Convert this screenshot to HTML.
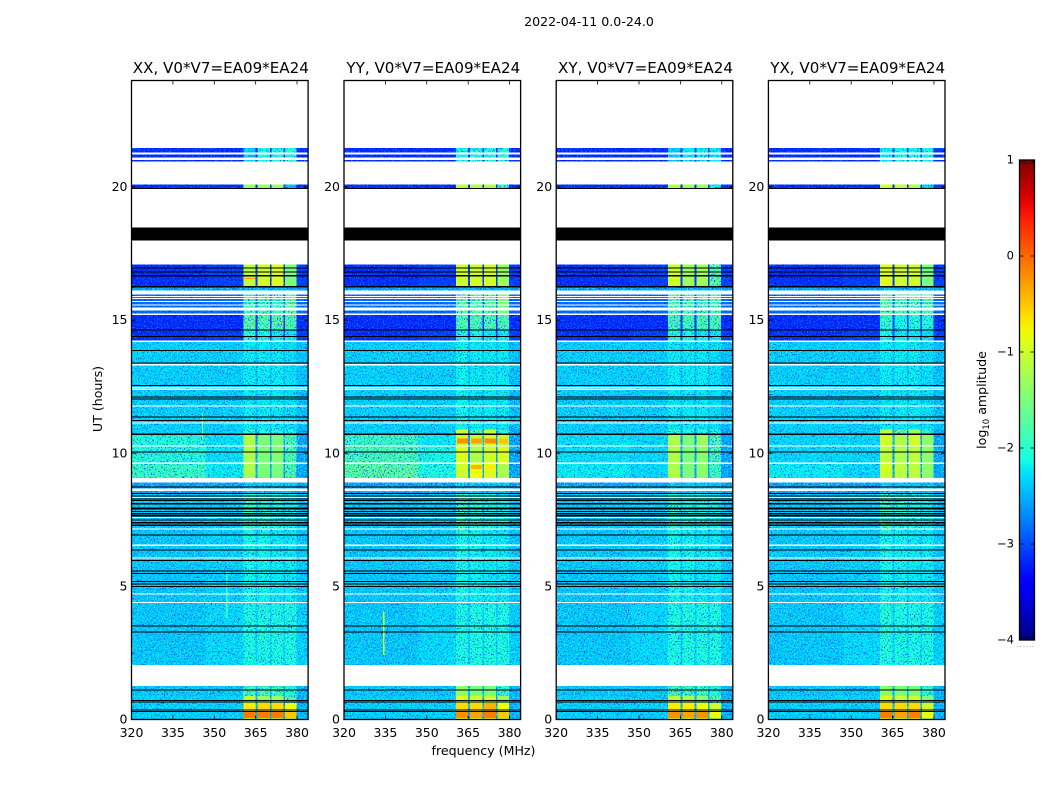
<!DOCTYPE html>
<html lang="en">
<head>
<meta charset="utf-8">
<title>2022-04-11 0.0-24.0</title>
<style>
html,body{margin:0;padding:0;background:#fff;}
svg{display:block;}
text{font-family:"DejaVu Sans","Liberation Sans",sans-serif;fill:#000;}
</style>
</head>
<body>
<svg id="figure" xmlns="http://www.w3.org/2000/svg" width="1050" height="800" viewBox="0 0 1050 800">
  <defs>
    <filter id="speckle" filterUnits="userSpaceOnUse" x="120" y="70" width="840" height="660" color-interpolation-filters="sRGB">
      <feTurbulence type="fractalNoise" baseFrequency="0.7" numOctaves="2" seed="7" result="n"/>
      <feColorMatrix in="n" type="matrix" values="0 0 0 0 0.02  0 0 0 0 0.25  0 0 0 0 1  7 0 0 0 -3.95" result="dark"/>
      <feColorMatrix in="n" type="matrix" values="0 0 0 0 0.05  0 0 0 0 1  0 0 0 0 0.95  0 7 0 0 -3.8" result="light"/>
      <feMerge result="merged">
        <feMergeNode in="SourceGraphic"/>
        <feMergeNode in="dark"/>
        <feMergeNode in="light"/>
      </feMerge>
      <feComposite in="merged" in2="SourceAlpha" operator="in"/>
    </filter>
    <filter id="speckle-low" filterUnits="userSpaceOnUse" x="120" y="70" width="840" height="660" color-interpolation-filters="sRGB">
      <feTurbulence type="fractalNoise" baseFrequency="0.7" numOctaves="2" seed="11" result="n"/>
      <feColorMatrix in="n" type="matrix" values="0 0 0 0 0  0 0 0 0 0  0 0 0 0 0.85  7 0 0 0 -4.1" result="dark"/>
      <feColorMatrix in="n" type="matrix" values="0 0 0 0 0  0 0 0 0 0.45  0 0 0 0 1  0 8 0 0 -4.3" result="light"/>
      <feMerge result="merged">
        <feMergeNode in="SourceGraphic"/>
        <feMergeNode in="dark"/>
        <feMergeNode in="light"/>
      </feMerge>
      <feComposite in="merged" in2="SourceAlpha" operator="in"/>
    </filter>
    <linearGradient id="jet-gradient" x1="0" y1="1" x2="0" y2="0"></linearGradient>
  </defs>
  <text x="589" y="26" font-size="12.6" text-anchor="middle">2022-04-11 0.0-24.0</text>
  <text x="102" y="399" font-size="12.6" text-anchor="middle" transform="rotate(-90 102 399)">UT (hours)</text>
  <text x="483.5" y="755" font-size="12.6" text-anchor="middle">frequency (MHz)</text>
  <text x="986" y="400" font-size="12.6" text-anchor="middle" transform="rotate(-90 986 400)">log<tspan font-size="8.5" dy="3">10</tspan><tspan dy="-3"> amplitude</tspan></text>
  <g id="panels"></g>
  <g id="colorbar"></g>
</svg>
<script>
// ---------- categories and tick labels ----------
const panelNames = ['XX', 'YY', 'XY', 'YX'];
const xTicks = [320, 335, 350, 365, 380];
const yTicks = [0, 5, 10, 15, 20];
const colorTicks = [1, 0, -1, -2, -3, -4];

// frequency cell edges (MHz) and which level column each cell reads
const freqEdges = [320, 347, 360.5, 365, 365.7, 370.2, 370.8, 375.1, 375.6, 379.8, 384];
const cellColumn = [0, 1, 2, 6, 3, 6, 4, 6, 5, 6];

// time bands: start hour, end hour, regime row
const timeBands = [
  [20.96, 21.02, 0], [21.11, 21.23, 0], [21.29, 21.46, 0], [19.97, 20.09, 1],
  [16.27, 17.09, 2], [16.12, 16.27, 3], [15.20, 15.97, 4], [14.65, 15.20, 5],
  [14.24, 14.65, 6], [10.89, 14.17, 7], [10.72, 10.89, 20], [10.30, 10.72, 8],
  [9.66, 10.25, 9], [9.07, 9.60, 10], [8.50, 8.91, 11], [7.10, 8.50, 12],
  [4.40, 7.10, 13], [2.04, 4.40, 14], [0.88, 1.26, 15], [0.62, 0.88, 16],
  [0.28, 0.62, 17], [0.06, 0.28, 18], [0, 0.06, 19]
];

// log10 amplitude per regime row: low band, mid band, four bright blocks, high band
const levelsXX = [
  [-3.2,-3.2,-2.4,-2.1,-2.0,-2.0,-3.2],[-3.2,-3.2,-1.3,-1.3,-1.3,-2.5,-3.2],[-3.2,-3.1,-1.1,-1.0,-0.9,-1.5,-3.1],
  [-2.6,-2.6,-2.5,-2.5,-2.5,-2.5,-2.6],[-2.8,-2.8,-1.8,-1.8,-1.9,-1.6,-2.8],[-3.2,-3.2,-1.6,-1.7,-1.6,-1.7,-3.2],
  [-3.2,-3.1,-2.0,-2.1,-2.2,-2.2,-3.1],[-2.35,-2.35,-2.2,-2.2,-2.2,-2.25,-2.45],[-2.0,-2.25,-1.2,-1.5,-1.5,-1.7,-2.6],
  [-2.0,-2.25,-1.2,-1.5,-1.45,-1.7,-2.6],[-1.85,-2.2,-1.2,-1.5,-1.5,-1.7,-2.6],[-2.6,-2.6,-2.4,-2.4,-2.4,-2.4,-2.6],
  [-2.4,-2.35,-1.85,-1.95,-2.05,-2.15,-2.4],[-2.4,-2.35,-2.1,-2.15,-2.2,-2.2,-2.4],[-2.4,-2.3,-2.05,-2.05,-2.05,-2.05,-2.35],
  [-2.4,-2.4,-1.8,-1.8,-1.8,-2.0,-2.5],[-2.35,-2.35,-1.1,-1.3,-1.3,-1.6,-2.5],[-2.35,-2.35,-0.7,-0.6,-0.6,-0.8,-2.5],
  [-2.35,-2.35,-0.1,-0.1,-0.1,-0.5,-2.5],[-2.4,-2.4,-0.9,-0.9,-0.9,-1.0,-2.5],[-2.35,-2.35,-1.9,-2.0,-2.0,-2.1,-2.6]
];
const levelsYY = [
  [-3.2,-3.2,-2.1,-2.0,-2.0,-2.0,-3.2],[-3.2,-3.2,-1.1,-1.2,-1.2,-1.9,-3.2],[-3.2,-3.1,-1.0,-1.0,-1.0,-1.3,-3.1],
  [-2.6,-2.6,-2.5,-2.5,-2.5,-2.5,-2.6],[-2.8,-2.8,-1.6,-1.6,-1.6,-1.5,-2.8],[-3.2,-3.2,-1.7,-1.7,-1.7,-1.7,-3.2],
  [-3.2,-3.1,-2.1,-2.1,-2.2,-2.2,-3.1],[-2.35,-2.35,-2.15,-2.2,-2.2,-2.2,-2.45],[-1.85,-2.2,-1.0,-1.1,-1.0,-1.1,-2.6],
  [-1.75,-2.1,-0.9,-1.2,-1.0,-0.9,-2.6],[-1.6,-2.05,-1.0,-0.8,-0.9,-1.2,-2.6],[-2.6,-2.6,-2.4,-2.4,-2.4,-2.4,-2.6],
  [-2.4,-2.35,-1.8,-1.95,-2.05,-2.15,-2.4],[-2.4,-2.35,-2.1,-2.15,-2.2,-2.2,-2.4],[-2.4,-2.3,-2.05,-2.05,-2.05,-2.05,-2.35],
  [-2.4,-2.4,-1.4,-1.5,-1.5,-1.9,-2.5],[-2.35,-2.35,-0.9,-1.0,-1.0,-1.3,-2.5],[-2.35,-2.35,-0.6,-0.6,-0.4,-0.8,-2.5],
  [-2.35,-2.35,-0.2,-0.3,-0.1,-0.5,-2.5],[-2.4,-2.4,-0.7,-0.8,-0.7,-1.0,-2.5],[-2.35,-2.35,-1.0,-1.6,-1.1,-1.9,-2.6]
];
const levelsXY = [
  [-3.2,-3.2,-2.4,-2.2,-2.2,-2.2,-3.2],[-3.2,-3.2,-1.2,-1.3,-1.3,-2.2,-3.2],[-3.2,-3.1,-1.0,-1.3,-1.3,-1.6,-3.1],
  [-2.6,-2.6,-2.5,-2.5,-2.5,-2.5,-2.6],[-2.8,-2.8,-1.7,-1.7,-1.8,-1.7,-2.8],[-3.2,-3.2,-1.7,-1.8,-1.7,-1.7,-3.2],
  [-3.2,-3.1,-2.0,-2.1,-2.2,-2.2,-3.1],[-2.35,-2.35,-2.2,-2.2,-2.2,-2.25,-2.45],[-2.25,-2.3,-1.2,-1.5,-1.3,-1.7,-2.6],
  [-2.25,-2.3,-1.2,-1.5,-1.4,-1.7,-2.6],[-2.2,-2.3,-1.2,-1.5,-1.4,-1.8,-2.6],[-2.6,-2.6,-2.4,-2.4,-2.4,-2.4,-2.6],
  [-2.4,-2.35,-1.95,-2.05,-2.05,-2.15,-2.4],[-2.4,-2.35,-2.1,-2.15,-2.2,-2.2,-2.4],[-2.4,-2.3,-2.05,-2.05,-2.05,-2.05,-2.35],
  [-2.4,-2.4,-1.7,-1.8,-1.8,-2.0,-2.5],[-2.35,-2.35,-1.1,-1.2,-1.4,-1.7,-2.5],[-2.35,-2.35,-0.7,-0.7,-0.8,-1.0,-2.5],
  [-2.35,-2.35,-0.2,-0.3,-0.2,-0.8,-2.5],[-2.4,-2.4,-0.9,-0.9,-0.9,-1.2,-2.5],[-2.35,-2.35,-1.9,-2.0,-2.0,-2.1,-2.6]
];
const levelsYX = [
  [-3.2,-3.2,-2.2,-2.1,-2.1,-2.1,-3.2],[-3.2,-3.2,-1.0,-1.1,-1.2,-2.4,-3.2],[-3.2,-3.1,-0.9,-1.0,-1.0,-1.5,-3.1],
  [-2.6,-2.6,-2.5,-2.5,-2.5,-2.5,-2.6],[-2.8,-2.8,-1.6,-1.7,-1.7,-1.7,-2.8],[-3.2,-3.2,-1.9,-2.1,-2.0,-2.0,-3.2],
  [-3.2,-3.1,-2.1,-2.2,-2.2,-2.3,-3.1],[-2.35,-2.35,-2.2,-2.2,-2.2,-2.25,-2.45],[-2.3,-2.3,-1.0,-1.2,-1.0,-1.4,-2.6],
  [-2.3,-2.3,-1.1,-1.2,-1.1,-1.4,-2.6],[-2.2,-2.3,-1.0,-1.1,-1.1,-1.4,-2.6],[-2.6,-2.6,-2.4,-2.4,-2.4,-2.4,-2.6],
  [-2.4,-2.35,-1.8,-1.95,-2.05,-2.15,-2.4],[-2.4,-2.35,-2.1,-2.15,-2.2,-2.2,-2.4],[-2.4,-2.3,-2.0,-2.05,-2.05,-2.05,-2.35],
  [-2.4,-2.4,-1.4,-1.5,-1.5,-1.9,-2.5],[-2.35,-2.35,-0.9,-1.0,-1.0,-1.5,-2.5],[-2.35,-2.35,-0.6,-0.6,-0.6,-1.0,-2.5],
  [-2.35,-2.35,-0.1,-0.3,-0.1,-0.8,-2.5],[-2.4,-2.4,-0.7,-0.8,-0.7,-1.2,-2.5],[-2.35,-2.35,-1.1,-1.6,-1.3,-1.9,-2.6]
];
const panelLevels = [levelsXX, levelsYY, levelsXY, levelsYX];

// blanked (white) time ranges, hours
const blankRanges = [
  [15.87,15.90],[15.80,15.83],[15.69,15.71],[15.56,15.59],[15.37,15.47],[15.20,15.24],
  [13.30,13.35],[12.44,12.49],[12.38,12.41],[11.76,11.80],[11.11,11.16],[8.59,8.68],
  [8.33,8.36],[7.57,7.61],[7.14,7.17],[6.52,6.57],[6.05,6.09],[4.71,4.74],[4.38,4.42]
];
// flagged (black) time ranges and single lines, hours
const flagRanges = [[17.99,18.48]];
const flagLines = [
  19.96,16.97,16.82,16.70,16.68,16.28,16.26,14.65,14.41,13.88,13.40,12.57,12.13,12.05,11.38,11.25,
  10.75,10.73,10.07,8.75,8.50,8.41,8.30,8.24,8.14,8.11,7.97,7.93,7.83,7.75,7.70,7.66,7.51,7.42,7.36,7.30,6.95,
  6.39,5.99,5.60,5.51,5.21,5.11,5.01,3.53,3.31,1.13,0.73,0.68,0.37,0.31
];
// narrow hot features: panel, f0, f1, h0, h1, level
const hotFeatures = [
  [0,361,379.8,16.93,16.98,-0.3],[0,361,365,16.54,16.58,-0.3],[0,345.5,346,10.56,11.5,-1.3],[0,354.3,354.8,3.8,5.6,-1.8],
  [1,361,379.8,16.93,16.98,-0.4],[1,334.2,334.7,2.42,4.03,-0.9],[1,361,365,10.37,10.56,-0.2],[1,366,370,10.37,10.56,-0.3],
  [1,371,375,10.37,10.56,-0.2],[1,376,379.5,10.37,10.56,-0.5],[1,366,370,9.40,9.55,-0.4],[1,371,375,9.40,9.55,-0.7],
  [2,361,379.8,16.93,16.98,-0.5],[3,361,365,16.93,16.98,-0.3],[3,361,365,15.85,15.95,-0.5],[3,366,379.8,15.85,15.95,-0.9]
];

// ---------- axis functions ----------
const panelLefts = [131.5, 344, 556.2, 768.4];
const panelWidth = 176.6;
const plotTop = 80.5;
const plotBottom = 719.5;
const xScale = (p, mhz) => panelLefts[p] + (mhz - 320) / 64 * panelWidth;
const yScale = h => plotBottom - h / 24 * (plotBottom - plotTop);
const cbarScale = v => 640 - (v + 4) / 5 * 480;

function jetChannel(t, pts) {
  for (let i = 1; i < pts.length; i++) {
    if (t <= pts[i][0]) {
      const a = pts[i - 1], b = pts[i];
      return a[1] + (b[1] - a[1]) * (t - a[0]) / (b[0] - a[0]);
    }
  }
  return pts[pts.length - 1][1];
}
const jetR = [[0,0],[0.35,0],[0.66,1],[0.89,1],[1,0.5]];
const jetG = [[0,0],[0.125,0],[0.375,1],[0.64,1],[0.91,0],[1,0]];
const jetB = [[0,0.5],[0.11,1],[0.34,1],[0.65,0],[1,0]];
function jet(v) {
  const t = Math.max(0, Math.min(1, (v + 4) / 5));
  const c = [jetR, jetG, jetB].map(p => Math.round(255 * jetChannel(t, p)));
  return 'rgb(' + c.join(',') + ')';
}

const NS = 'http://www.w3.org/2000/svg';
function make(tag, attrs, parent) {
  const el = document.createElementNS(NS, tag);
  for (const k in attrs) el.setAttribute(k, attrs[k]);
  parent.appendChild(el);
  return el;
}
const panelsRoot = document.getElementById('panels');

panelNames.forEach((name, p) => {
  const panel = make('g', {}, panelsRoot);
  
  
  const lowCells = make('g', { filter: 'url(#speckle-low)', 'shape-rendering': 'crispEdges' }, panel);
  
  
  const noisy = make('g', { filter: 'url(#speckle)', 'shape-rendering': 'crispEdges' }, panel);
  
  
  const smooth = make('g', { 'shape-rendering': 'crispEdges' }, panel);
  
  
  const levels = panelLevels[p];

  timeBands.forEach(band => {
    const row = levels[band[2]];
    cellColumn.forEach((col, i) => {
      const v = row[col];
      const x0 = xScale(p, freqEdges[i]);
      const x1 = xScale(p, freqEdges[i + 1]);
      const y0 = yScale(band[1]);
      const y1 = yScale(band[0]);
      const host = v < -2.75 ? lowCells : (v < -1.55 ? noisy : smooth);
      const cell = make('rect', { x: x0, y: y0, width: x1 - x0, height: y1 - y0, fill: jet(v) }, host);
      
      
    });
  });

  hotFeatures.filter(f => f[0] === p).forEach(f => {
    const hot = make('rect', {
      x: xScale(p, f[1]), y: yScale(f[4]),
      width: xScale(p, f[2]) - xScale(p, f[1]), height: yScale(f[3]) - yScale(f[4]),
      fill: jet(f[5]), 'shape-rendering': 'crispEdges'
    }, panel);
    
    
  });

  blankRanges.forEach(r => {
    const gap = make('rect', {
      x: xScale(p, 320), y: yScale(r[1]), width: panelWidth,
      height: Math.max(1, yScale(r[0]) - yScale(r[1])), fill: '#fff', 'shape-rendering': 'crispEdges'
    }, panel);
    
    
  });

  flagRanges.forEach(r => {
    const flag = make('rect', {
      x: xScale(p, 320), y: yScale(r[1]), width: panelWidth,
      height: yScale(r[0]) - yScale(r[1]), fill: '#000', 'shape-rendering': 'crispEdges'
    }, panel);
    
    
  });

  flagLines.forEach(h => {
    const line = make('rect', {
      x: xScale(p, 320), y: yScale(h), width: panelWidth,
      height: 1, fill: '#000', 'shape-rendering': 'crispEdges'
    }, panel);
    
    
  });

  // frame
  const frame = make('rect', {
    x: xScale(p, 320), y: plotTop, width: panelWidth, height: plotBottom - plotTop,
    fill: 'none', stroke: '#000', 'stroke-width': 1.3
  }, panel);
  
  

  // ticks
  xTicks.forEach(t => {
    const x = xScale(p, t);
    [[plotBottom, plotBottom - 4], [plotTop, plotTop + 4]].forEach(e => {
      const tick = make('line', { x1: x, x2: x, y1: e[0], y2: e[1], stroke: '#000', 'stroke-width': 0.8 }, panel);
      
      
    });
    const label = make('text', { x: x, y: 737, 'font-size': 12.5, 'text-anchor': 'middle' }, panel);
    label.textContent = t;
    
    
  });
  yTicks.forEach(t => {
    const y = yScale(t);
    const left = xScale(p, 320);
    const right = left + panelWidth;
    [[left, left + 4], [right, right - 4]].forEach(e => {
      const tick = make('line', { x1: e[0], x2: e[1], y1: y, y2: y, stroke: '#000', 'stroke-width': 0.8 }, panel);
      
      
    });
    const label = make('text', { x: left - 4, y: y + 4, 'font-size': 12.5, 'text-anchor': 'end' }, panel);
    label.textContent = t;
    
    
  });

  const title = make('text', { x: xScale(p, 320) + panelWidth / 2 + 1, y: 73, 'font-size': 15.1, 'text-anchor': 'middle' }, panel);
  title.textContent = name + ', V0*V7=EA09*EA24';
  
  
});

// ---------- colorbar ----------
const gradient = document.getElementById('jet-gradient');
for (let i = 0; i <= 40; i++) {
  make('stop', { offset: i / 40, 'stop-color': jet(-4 + i / 8) }, gradient);
}
const cbarRoot = document.getElementById('colorbar');
const cbarLeft = 1019.5;
const cbarRight = 1034.5;
const cbarFill = make('rect', { x: cbarLeft, y: 160, width: cbarRight - cbarLeft, height: 480, fill: 'url(#jet-gradient)', stroke: '#000', 'stroke-width': 1.3 }, cbarRoot);


colorTicks.forEach(v => {
  const y = cbarScale(v);
  if (v !== 1 && v !== -4) {
    [[cbarLeft, cbarLeft + 4], [cbarRight, cbarRight - 4]].forEach(e => {
      const tick = make('line', { x1: e[0], x2: e[1], y1: y, y2: y, stroke: '#000', 'stroke-width': 0.8 }, cbarRoot);
      
      
    });
  }
  const label = make('text', { x: 1014, y: y + 3.5, 'font-size': 11.5, 'text-anchor': 'end' }, cbarRoot);
  label.textContent = v < 0 ? '\u2212' + Math.abs(v) : String(v);
  
  
});
[0, 1, 2, 3, 4].forEach(k => {
  const x = 1022.5 + k * 2.6;
  [[160, 164], [640, 636]].forEach(e => {
    const minor = make('line', { x1: x, x2: x, y1: e[0], y2: e[1], stroke: '#000', 'stroke-width': 0.6 }, cbarRoot);
    
    
  });
});
[0, 1, 2, 3, 4, 5].forEach(k => {
  const dot = make('rect', { x: 1017.5 + k * 3, y: 646, width: 1, height: 1, fill: '#aaa' }, cbarRoot);
  
  
});
</script>
</body>
</html>
